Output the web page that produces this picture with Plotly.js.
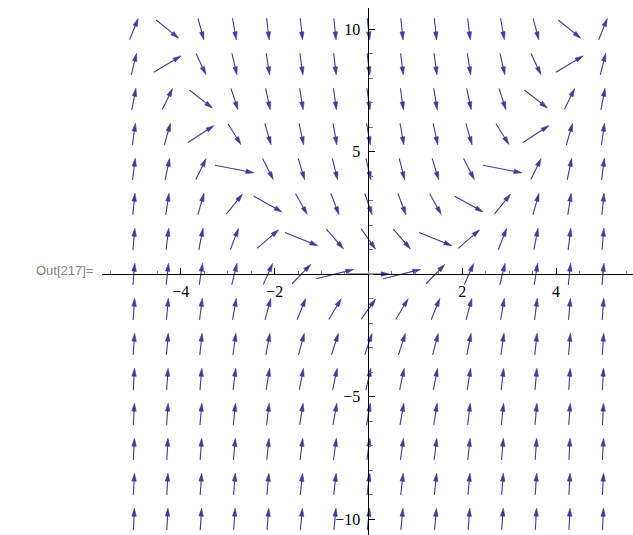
<!DOCTYPE html>
<html>
<head>
<meta charset="utf-8">
<script src="https://cdn.plot.ly/plotly-3.0.1.min.js"></script>
<style>
  html, body { margin: 0; padding: 0; background: #fff; }
  #chart { width: 633px; height: 535px; }
</style>
</head>
<body>
<div id="chart"></div>
<script>
// ---- data (vector field sample grid) ----
const xs = [-5, -4.286, -3.571, -2.857, -2.143, -1.429, -0.714, 0, 0.714, 1.429, 2.143, 2.857, 3.571, 4.286, 5];
const ys = [10, 8.571, 7.143, 5.714, 4.286, 2.857, 1.429, 0, -1.429, -2.857, -4.286, -5.714, -7.143, -8.571, -10];

// on-screen arrow direction in degrees (counter-clockwise from +x), one row per y value
const angleRow_y10   = [68, -39, -75, -80, -83, -84, -84, -84, -84, -84, -83, -80, -75, -39, 68];
const angleRow_y8_6  = [76, 31, -65, -77, -81, -82, -83, -83, -83, -82, -81, -77, -65, 31, 76];
const angleRow_y7_1  = [79, 64, -38, -72, -78, -81, -82, -82, -82, -81, -78, -72, -38, 64, 79];
const angleRow_y5_7  = [82, 74, 33, -58, -74, -78, -80, -80, -80, -78, -74, -58, 33, 74, 82];
const angleRow_y4_3  = [83, 78, 64, -11, -63, -73, -76, -77, -76, -73, -63, -11, 64, 78, 83];
const angleRow_y2_9  = [84, 81, 74, 51, -29, -61, -69, -71, -69, -61, -29, 51, 74, 81, 84];
const angleRow_y1_4  = [85, 83, 79, 69, 41, -22, -49, -55, -49, -22, 41, 69, 79, 83, 85];
const angleRow_y0    = [85, 84, 81, 76, 66, 46, 14, 0, 14, 46, 66, 76, 81, 84, 85];
const angleRow_ym1_4 = [86, 85, 83, 80, 75, 68, 59, 55, 59, 68, 75, 80, 83, 85, 86];
const angleRow_ym2_9 = [86, 85, 84, 82, 79, 75, 72, 71, 72, 75, 79, 82, 84, 85, 86];
const angleRow_ym4_3 = [87, 86, 85, 83, 81, 79, 78, 77, 78, 79, 81, 83, 85, 86, 87];
const angleRow_ym5_7 = [87, 86, 85, 84, 83, 81, 80, 80, 80, 81, 83, 84, 85, 86, 87];
const angleRow_ym7_1 = [87, 87, 86, 85, 84, 83, 82, 82, 82, 83, 84, 85, 86, 87, 87];
const angleRow_ym8_6 = [87, 87, 86, 85.5, 85, 84, 83.5, 83, 83.5, 84, 85, 85.5, 86, 87, 87];
const angleRow_ym10  = [87.5, 87, 86.5, 86, 85.5, 85, 84.5, 84, 84.5, 85, 85.5, 86, 86.5, 87, 87.5];

const angleRows = [angleRow_y10, angleRow_y8_6, angleRow_y7_1, angleRow_y5_7, angleRow_y4_3,
  angleRow_y2_9, angleRow_y1_4, angleRow_y0, angleRow_ym1_4, angleRow_ym2_9, angleRow_ym4_3,
  angleRow_ym5_7, angleRow_ym7_1, angleRow_ym8_6, angleRow_ym10];

const xTickVals = [-4, -2, 2, 4];
const xTickText = ['\u22124', '\u22122', '2', '4'];
const yTickVals = [-10, -5, 5, 10];
const yTickText = ['\u221210', '\u22125', '5', '10'];
const outLabel = 'Out[217]=';

// ---- layout / style ----
const W = 633, H = 535;
const M = { l: 102, r: 0, t: 8, b: 0 };
const xRange = [-5.68, 5.64];
const yRange = [-10.65, 10.86];
const arrowColor = '#3d3d99';
const arrowLen = 0.885;      // data units (uniform in data space)
const headLen = 8, headHalfW = 2.2; // pixels

const kx = (W - M.l - M.r) / (xRange[1] - xRange[0]);
const ky = (H - M.t - M.b) / (yRange[1] - yRange[0]);

const shaftX = [], shaftY = [], headX = [], headY = [];
ys.forEach((y, j) => {
  xs.forEach((x, i) => {
    const th = angleRows[j][i] * Math.PI / 180;
    const ux = Math.cos(th), uy = Math.sin(th);          // screen direction
    let dx = ux / kx, dy = uy / ky;                       // data direction
    const n = Math.hypot(dx, dy); dx /= n; dy /= n;
    const h = arrowLen / 2;
    const tx = x - h * dx, ty = y - h * dy;               // tail
    const px = x + h * dx, py = y + h * dy;               // tip
    const bx = px - headLen * ux / kx, by = py - headLen * uy / ky;   // head base
    const sx = px - 0.5 * headLen * ux / kx, sy = py - 0.5 * headLen * uy / ky;
    shaftX.push(tx, sx, null); shaftY.push(ty, sy, null);
    const ox = -uy * headHalfW / kx, oy = ux * headHalfW / ky;
    headX.push(px, bx + ox, bx - ox, px, null);
    headY.push(py, by + oy, by - oy, py, null);
  });
});

const traces = [
  { type: 'scatter', mode: 'lines', x: shaftX, y: shaftY, hoverinfo: 'skip',
    line: { color: arrowColor, width: 1.1 }, connectgaps: false, showlegend: false },
  { type: 'scatter', mode: 'lines', x: headX, y: headY, hoverinfo: 'skip',
    fill: 'toself', fillcolor: arrowColor,
    line: { color: arrowColor, width: 0.6 }, connectgaps: false, showlegend: false }
];

const xPos = (0 - yRange[0]) / (yRange[1] - yRange[0]);
const yPos = (0 - xRange[0]) / (xRange[1] - xRange[0]);

const tickFont = { family: '"Liberation Serif", "Times New Roman", serif', size: 16, color: '#000' };

const layout = {
  width: W, height: H,
  margin: M,
  paper_bgcolor: '#fff', plot_bgcolor: '#fff',
  showlegend: false,
  xaxis: {
    range: xRange, anchor: 'free', position: xPos,
    showgrid: false, zeroline: false,
    showline: true, linecolor: '#000', linewidth: 1,
    ticks: 'inside', ticklen: 6, tickwidth: 1, tickcolor: '#000',
    tickmode: 'array', tickvals: xTickVals, ticktext: xTickText,
    tickfont: tickFont, ticklabelstandoff: 3,
    minor: { ticks: 'inside', ticklen: 3.5, tickwidth: 1, tickcolor: '#777', tickmode: 'linear', tick0: 0, dtick: 0.5, showgrid: false },
    fixedrange: true
  },
  yaxis: {
    range: yRange, anchor: 'free', position: yPos,
    showgrid: false, zeroline: false,
    showline: true, linecolor: '#000', linewidth: 1,
    ticks: 'inside', ticklen: 6, tickwidth: 1, tickcolor: '#000',
    tickmode: 'array', tickvals: yTickVals, ticktext: yTickText,
    tickfont: tickFont, ticklabelstandoff: 5,
    minor: { ticks: 'inside', ticklen: 3.5, tickwidth: 1, tickcolor: '#777', tickmode: 'linear', tick0: 0, dtick: 1, showgrid: false },
    fixedrange: true
  },
  annotations: [{
    text: outLabel, xref: 'paper', yref: 'paper',
    x: -0.013, y: (H - M.b - 270) / (H - M.t - M.b), xanchor: 'right', yanchor: 'middle',
    showarrow: false,
    font: { family: '"Liberation Sans", Arial, sans-serif', size: 13, color: '#848484' }
  }]
};

Plotly.newPlot('chart', traces, layout, { displayModeBar: false, staticPlot: true });
</script>
</body>
</html>
